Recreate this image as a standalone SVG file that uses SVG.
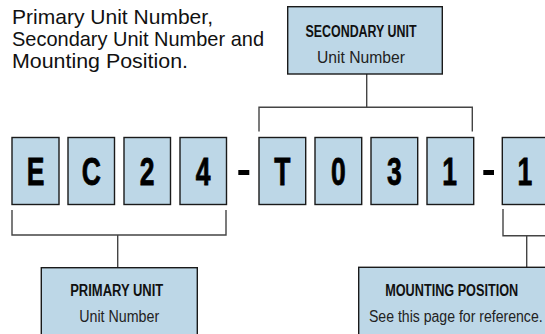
<svg xmlns="http://www.w3.org/2000/svg" width="545" height="334" viewBox="0 0 545 334">
<style>
.box{fill:#bdd7e7;stroke:#1a1a1a;stroke-width:1.4}
.ch{font-family:"Liberation Sans",Arial,sans-serif;font-weight:bold;font-size:39px;fill:#000;stroke:#000;stroke-width:0.8;text-anchor:middle}
.t{font-family:"Liberation Sans",Arial,sans-serif;font-size:21px;fill:#111}
.h{font-family:"Liberation Sans",Arial,sans-serif;font-weight:bold;font-size:16px;fill:#111;text-anchor:middle}
.s{font-family:"Liberation Sans",Arial,sans-serif;font-size:16px;fill:#222;text-anchor:middle}
.ln{fill:none;stroke:#444;stroke-width:1.4}
</style>
<rect width="545" height="334" fill="#fff"/>
<g id="title">
<text class="t" x="12" y="24" textLength="201" lengthAdjust="spacingAndGlyphs">Primary Unit Number,</text>
<text class="t" x="12" y="46" textLength="252" lengthAdjust="spacingAndGlyphs">Secondary Unit Number and</text>
<text class="t" x="12" y="67.5" textLength="176" lengthAdjust="spacingAndGlyphs">Mounting Position.</text>
</g>
<g id="connectors">
<path class="ln" d="M366.7,74 V107.3 M259,131.5 V107.3 H472.3 V131.5"/>
<path class="ln" d="M12,210 V235 H226 V210 M117.7,235 V267.7"/>
<path class="ln" d="M503,209 V235.7 H546 M526.7,235.7 V267.3"/>
</g>
<g id="secondary">
<rect class="box" x="287.7" y="6.7" width="154.6" height="67.3"/>
<text class="h" x="361" y="36.5" textLength="111" lengthAdjust="spacingAndGlyphs">SECONDARY UNIT</text>
<text class="s" x="361" y="63" textLength="88" lengthAdjust="spacingAndGlyphs">Unit Number</text>
</g>
<g id="code">
<g id="c1"><rect class="box" x="12" y="137.5" width="47" height="67"/><text class="ch" transform="matrix(0.68,0,0,1,35.5,185)">E</text></g>
<g id="c2"><rect class="box" x="68" y="137.5" width="46.5" height="67"/><text class="ch" transform="matrix(0.68,0,0,1,91.2,185)">C</text></g>
<g id="c3"><rect class="box" x="124" y="137.5" width="46.5" height="67"/><text class="ch" transform="matrix(0.68,0,0,1,147.2,185)">2</text></g>
<g id="c4"><rect class="box" x="180" y="137.5" width="46.5" height="67"/><text class="ch" transform="matrix(0.68,0,0,1,203.2,185)">4</text></g>
<rect x="238.3" y="170" width="11" height="5" fill="#000"/>
<g id="c5"><rect class="box" x="259" y="137.5" width="46.7" height="67"/><text class="ch" transform="matrix(0.68,0,0,1,282.3,185)">T</text></g>
<g id="c6"><rect class="box" x="315" y="137.5" width="46.7" height="67"/><text class="ch" transform="matrix(0.68,0,0,1,338.3,185)">0</text></g>
<g id="c7"><rect class="box" x="371" y="137.5" width="46.7" height="67"/><text class="ch" transform="matrix(0.68,0,0,1,394.3,185)">3</text></g>
<g id="c8"><rect class="box" x="427" y="137.5" width="46.7" height="67"/><text class="ch" transform="matrix(0.68,0,0,1,449.5,185)">1</text></g>
<rect x="483.3" y="170" width="10.7" height="5" fill="#000"/>
<g id="c9"><rect class="box" x="502.3" y="137.5" width="46.7" height="67"/><text class="ch" transform="matrix(0.68,0,0,1,524.8,185)">1</text></g>
</g>
<g id="primary">
<rect class="box" x="41.3" y="267.7" width="156" height="70"/>
<text class="h" x="116.7" y="296" textLength="93" lengthAdjust="spacingAndGlyphs">PRIMARY UNIT</text>
<text class="s" x="119.2" y="321.5" textLength="80" lengthAdjust="spacingAndGlyphs">Unit Number</text>
</g>
<g id="mounting">
<rect class="box" x="358.7" y="267.3" width="190" height="70"/>
<text class="h" x="451.7" y="296" textLength="133" lengthAdjust="spacingAndGlyphs">MOUNTING POSITION</text>
<text class="s" x="455.8" y="321.5" textLength="173.7" lengthAdjust="spacingAndGlyphs">See this page for reference.</text>
</g>
</svg>
